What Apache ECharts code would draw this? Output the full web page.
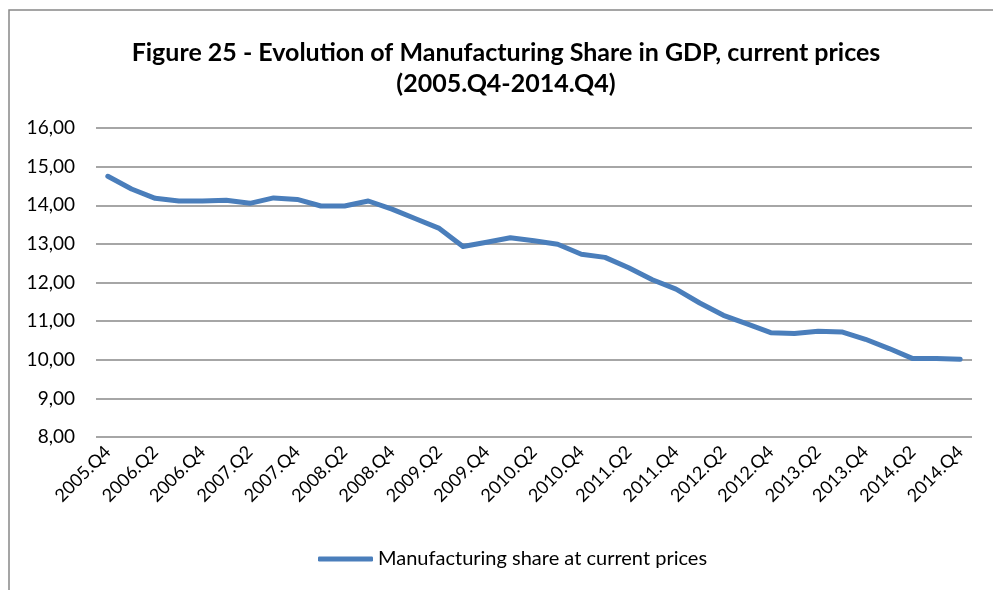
<!DOCTYPE html>
<html>
<head>
<meta charset="utf-8">
<script src="https://cdn.jsdelivr.net/npm/echarts@6/dist/echarts.min.js"></script>
<style>
  html, body { margin: 0; padding: 0; background: #fff; }
  #chart_one { width: 993px; height: 590px; }
</style>
</head>
<body>
<div id="chart_one"></div>
<script>
var quarters = ['2005.Q4',
  '2006.Q1', '2006.Q2', '2006.Q3', '2006.Q4',
  '2007.Q1', '2007.Q2', '2007.Q3', '2007.Q4',
  '2008.Q1', '2008.Q2', '2008.Q3', '2008.Q4',
  '2009.Q1', '2009.Q2', '2009.Q3', '2009.Q4',
  '2010.Q1', '2010.Q2', '2010.Q3', '2010.Q4',
  '2011.Q1', '2011.Q2', '2011.Q3', '2011.Q4',
  '2012.Q1', '2012.Q2', '2012.Q3', '2012.Q4',
  '2013.Q1', '2013.Q2', '2013.Q3', '2013.Q4',
  '2014.Q1', '2014.Q2', '2014.Q3', '2014.Q4'];

var manufShare = [14.75,
  14.42, 14.18, 14.11, 14.11,
  14.13, 14.05, 14.19, 14.15,
  13.98, 13.98, 14.11, 13.90,
  13.65, 13.40, 12.93, 13.04,
  13.16, 13.08, 12.99, 12.73,
  12.65, 12.38, 12.07, 11.83,
  11.47, 11.15, 10.93, 10.70,
  10.68, 10.74, 10.72, 10.53,
  10.29, 10.03, 10.03, 10.01];

var theDom = document.getElementById('chart_one');
var myChart = echarts.init(theDom);
var font = 'Lato, "Liberation Sans", sans-serif';

var option = {
    animation: false,
    textStyle: { fontFamily: font },
    title: {
        text: 'Figure 25 - Evolution of Manufacturing Share in GDP, current prices\n(2005.Q4-2014.Q4)',
        left: 506,
        textAlign: 'center',
        top: 37,
        padding: 0,
        textStyle: {
            fontFamily: font,
            fontSize: 25,
            fontWeight: 'bold',
            color: '#000',
            lineHeight: 31
        }
    },
    graphic: [{
        type: 'polyline',
        shape: { points: [[9, 590], [9, 10], [993, 10]] },
        style: { stroke: '#888', lineWidth: 1.5, fill: null },
        silent: true
    }],
    legend: {
        left: 318,
        top: 549,
        padding: 0,
        icon: 'roundRect',
        itemWidth: 55,
        itemHeight: 5,
        textStyle: { fontFamily: font, fontSize: 20, color: '#000' },
        data: ['Manufacturing share at current prices']
    },
    grid: {
        left: 96,
        right: 21,
        top: 128,
        bottom: 153
    },
    xAxis: {
        type: 'category',
        boundaryGap: true,
        data: quarters,
        axisLine: { show: false },
        axisTick: { show: false },
        axisLabel: {
            interval: 1,
            rotate: 45,
            fontFamily: font,
            fontSize: 18,
            color: '#000',
            margin: 12
        }
    },
    yAxis: {
        type: 'value',
        min: 8,
        max: 16,
        interval: 1,
        axisLine: { show: false },
        axisTick: { show: false },
        axisLabel: {
            fontFamily: font,
            fontSize: 19,
            color: '#000',
            margin: 21,
            formatter: function (v) { return v.toFixed(2).replace('.', ','); }
        },
        splitLine: { lineStyle: { color: '#888', width: 1.5 } }
    },
    series: [{
        name: 'Manufacturing share at current prices',
        type: 'line',
        data: manufShare,
        showSymbol: false,
        symbol: 'none',
        color: '#4a7ebb',
        lineStyle: { width: 5, color: '#4a7ebb', cap: 'round', join: 'round' }
    }]
};

myChart.setOption(option);
</script>
</body>
</html>
